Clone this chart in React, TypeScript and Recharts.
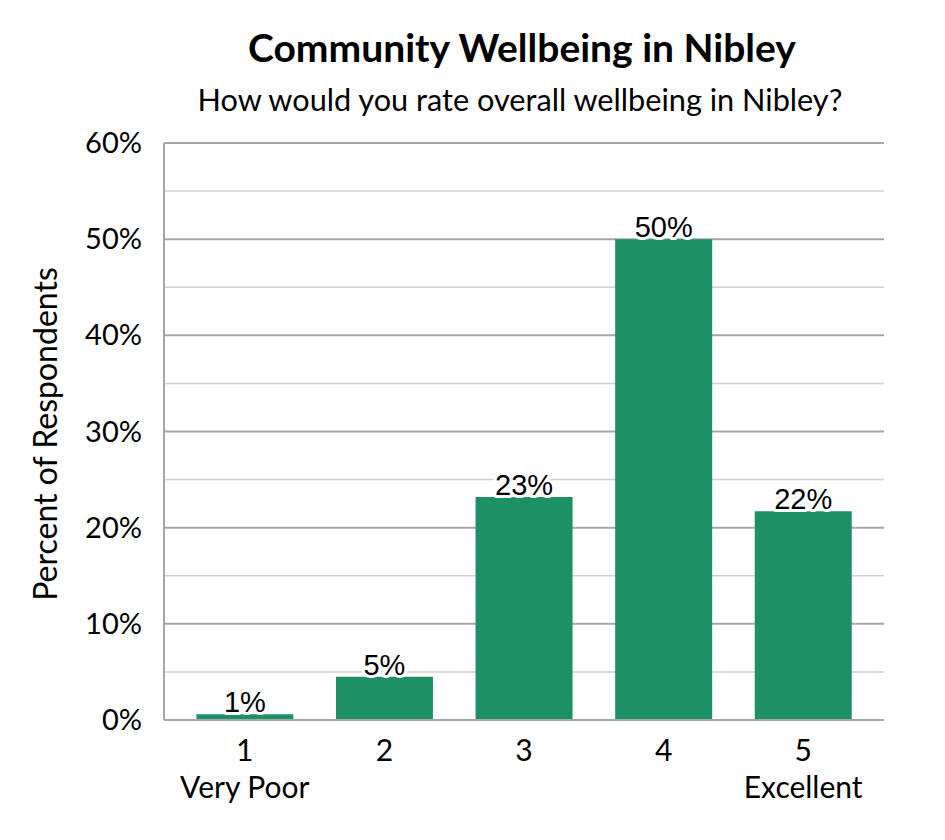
import React from "react";
import { BarChart, Bar, XAxis, YAxis, CartesianGrid, LabelList } from "recharts";

const categories = ["1", "2", "3", "4", "5"];
const categorySubLabels = ["Very Poor", "", "", "", "Excellent"];
const percentValues = [0.6, 4.5, 23.2, 50.0, 21.7];
const valueLabels = ["1%", "5%", "23%", "50%", "22%"];
const gridTicks = [0, 5, 10, 15, 20, 25, 30, 35, 40, 45, 50, 55, 60];
const labelledTicks = [0, 10, 20, 30, 40, 50, 60];

const data = categories.map((c, i) => ({
  cat: c,
  sub: categorySubLabels[i],
  value: percentValues[i],
  label: valueLabels[i],
}));

const FONT = "Lato, 'Open Sans', sans-serif";
const BAR = "#1e9065";
const MAJOR = "#a6a6a6";
const MINOR = "#d0d0d0";

const XTick = (props: any) => {
  const { x, y, payload, index } = props;
  const sub = categorySubLabels[index] ?? "";
  return (
    <g>
      <text x={x} y={y + 33} textAnchor="middle" fontFamily={FONT} fontSize={30} fill="#000">
        {payload.value}
      </text>
      {sub && (
        <text x={x} y={y + 70} textAnchor="middle" fontFamily={FONT} fontSize={30} fill="#000">
          {sub}
        </text>
      )}
    </g>
  );
};

const YTick = (props: any) => {
  const { x, y, payload } = props;
  if (!labelledTicks.includes(payload.value)) return <g />;
  return (
    <text x={x} y={y} dy={10} textAnchor="end" fontFamily={FONT} fontSize={29} fill="#000">
      {payload.value}%
    </text>
  );
};

const GridLine = (props: any) => {
  const { x1, x2, y1, y2, index } = props;
  const major = typeof index === "number" ? index % 2 === 0 : true;
  return (
    <line
      x1={x1}
      x2={x2}
      y1={y1}
      y2={y2}
      stroke={major ? MAJOR : MINOR}
      strokeWidth={major ? 2 : 1.5}
      fill="none"
    />
  );
};

const ValueLabel = (props: any) => {
  const { x, y, width, index } = props;
  return (
    <text
      x={x + width / 2}
      y={y - 2}
      textAnchor="middle"
      fontFamily="'Liberation Sans', Arial, sans-serif"
      fontSize={29}
      fill="#000"
      stroke="#fff"
      strokeWidth={6}
      paintOrder="stroke"
      strokeLinejoin="round"
    >
      {valueLabels[index]}
    </text>
  );
};

export default function App() {
  return (
    <div style={{ position: "absolute", left: 0, top: 0, width: 945, height: 840, background: "#fff" }}>
      <BarChart
        width={945}
        height={840}
        data={data}
        margin={{ top: 143, right: 61, bottom: 90, left: 0 }}
        barCategoryGap="15.3%"
      >
        <text x={522} y={62} textAnchor="middle" fontFamily={FONT} fontWeight={700} fontSize={39} fill="#000">
          Community Wellbeing in Nibley
        </text>
        <text x={520} y={111} textAnchor="middle" fontFamily={FONT} fontSize={30.7} fill="#000">
          How would you rate overall wellbeing in Nibley?
        </text>
        <text
          x={57}
          y={434}
          transform="rotate(-90 57 434)"
          textAnchor="middle"
          fontFamily={FONT}
          fontSize={32}
          fill="#000"
        >
          Percent of Respondents
        </text>
        <CartesianGrid vertical={false} horizontal={(p: any) => <GridLine {...p} />} syncWithTicks />
        <XAxis
          dataKey="cat"
          axisLine={{ stroke: MAJOR, strokeWidth: 2 }}
          tickLine={false}
          tick={<XTick />}
          interval={0}
          padding={{ left: 11, right: 11 }}
        />
        <YAxis
          width={164}
          domain={[0, 60]}
          ticks={gridTicks}
          interval={0}
          axisLine={{ stroke: MAJOR, strokeWidth: 2 }}
          tickLine={false}
          tick={<YTick />}
          tickMargin={16}
        />
        <YAxis
          yAxisId="frame"
          orientation="right"
          width={0}
          domain={[0, 60]}
          axisLine={{ stroke: MAJOR, strokeWidth: 2 }}
          tickLine={false}
          tick={false}
        />
        <Bar dataKey="value" fill={BAR} isAnimationActive={false}>
          <LabelList dataKey="value" content={<ValueLabel />} />
        </Bar>
      </BarChart>
    </div>
  );
}
